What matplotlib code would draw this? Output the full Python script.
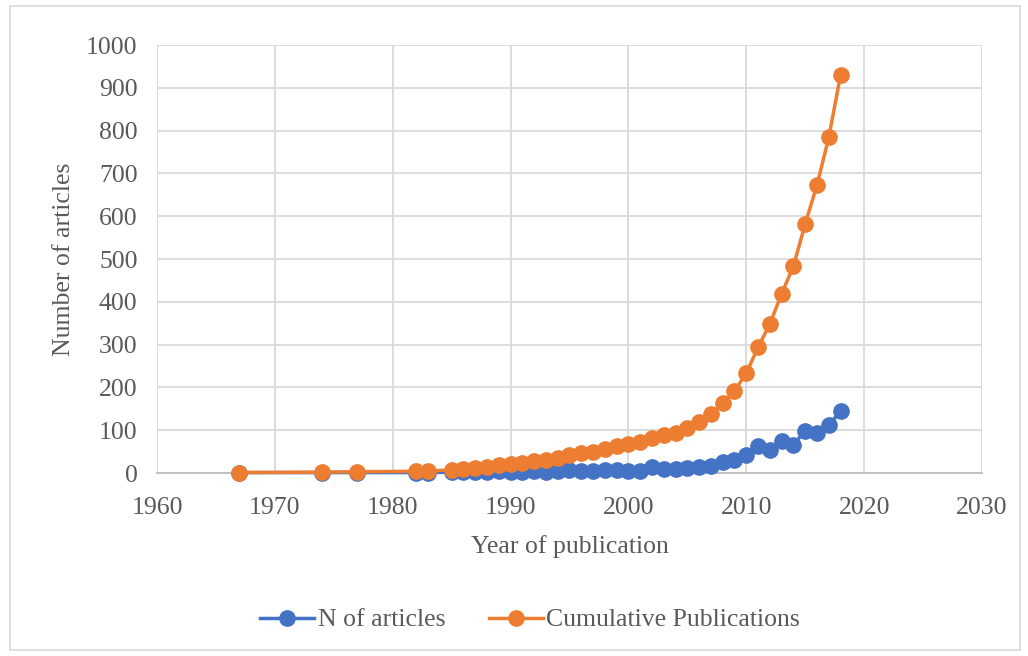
import matplotlib
matplotlib.use("Agg")
import matplotlib.pyplot as plt
from matplotlib.patches import Rectangle

# Data
years = [1967, 1974, 1977, 1982, 1983, 1985, 1986, 1987, 1988, 1989,
         1990, 1991, 1992, 1993, 1994, 1995, 1996, 1997, 1998, 1999,
         2000, 2001, 2002, 2003, 2004, 2005, 2006, 2007, 2008, 2009,
         2010, 2011, 2012, 2013, 2014, 2015, 2016, 2017, 2018]
n_articles = [1, 1, 1, 1, 1, 2, 2, 2, 3, 4,
              3, 3, 4, 3, 4, 6, 5, 4, 7, 7,
              4, 4, 13, 9, 9, 12, 15, 17, 26, 30,
              41, 63, 53, 74, 66, 99, 94, 111, 145]
cumulative = [1, 2, 3, 4, 5, 7, 9, 11, 14, 18,
              21, 24, 28, 31, 35, 41, 46, 50, 57, 64,
              68, 72, 82, 88, 93, 105, 120, 137, 163, 192,
              233, 294, 348, 419, 483, 582, 673, 784, 930]

xticks = list(range(1960, 2031, 10))
yticks = list(range(0, 1001, 100))

BLUE = "#4472C4"
ORANGE = "#ED7D31"
TEXT = "#595959"
GRID = "#D9D9D9"
FS = 18.5

plt.rcParams["font.family"] = ["Liberation Serif", "DejaVu Serif"]

fig = plt.figure(figsize=(10.28, 6.56), dpi=100)
ax = fig.add_axes([157 / 1028, 1 - 473 / 656, (982 - 157) / 1028, (473 - 45) / 656])

ax.plot(years, n_articles, color=BLUE, lw=2.5, marker="o", ms=11,
        label="N of articles", zorder=3, clip_on=False)
ax.plot(years, cumulative, color=ORANGE, lw=2.5, marker="o", ms=11,
        label="Cumulative Publications", zorder=4, clip_on=False)

ax.set_xlim(1960, 2030)
ax.set_ylim(0, 1000)
ax.set_xticks(xticks)
ax.set_yticks(yticks)
ax.grid(True, color=GRID, lw=1.3)
ax.set_axisbelow(True)
for s in ["top", "right", "left"]:
    ax.spines[s].set_visible(False)
ax.spines["bottom"].set_color("#BFBFBF")
ax.spines["bottom"].set_linewidth(1.3)
ax.tick_params(length=0, labelsize=FS, labelcolor=TEXT)
ax.tick_params(axis="x", pad=17.5)
ax.tick_params(axis="y", pad=14)

ax.set_xlabel("Year of publication", fontsize=FS, color=TEXT)
ax.set_ylabel("Number of articles", fontsize=FS, color=TEXT)
ax.xaxis.set_label_coords(0.5, -(535 - 473) / 428)
ax.yaxis.set_label_coords((75 - 157) / 825, 0.5)

fig.legend(loc="center", bbox_to_anchor=(530 / 1028, 1 - 620 / 656), ncol=2,
           frameon=False, fontsize=FS, labelcolor=TEXT, handlelength=2.1,
           handletextpad=0.12, columnspacing=1.7)

fig.patches.append(Rectangle((10 / 1028, 6 / 656), 1010 / 1028, 644 / 656,
                             transform=fig.transFigure, fill=False,
                             edgecolor="#D9D9D9", lw=1.2))

fig.savefig("out.png", dpi=100, facecolor="white")
